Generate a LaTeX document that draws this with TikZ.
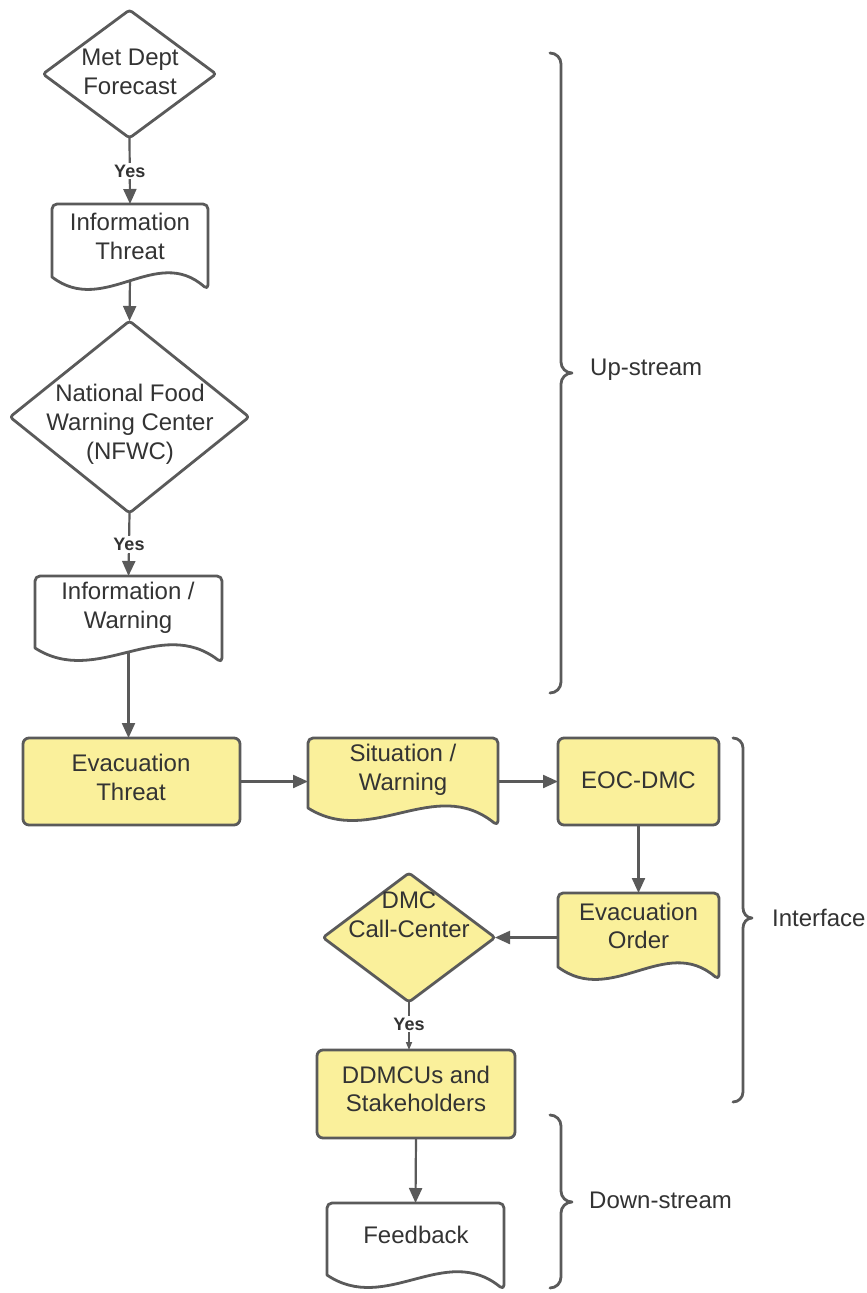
\documentclass[tikz,border=0pt]{standalone}
\usepackage{fontspec}
\setmainfont{Liberation Sans}
\usetikzlibrary{arrows.meta,calc}

\definecolor{edge}{RGB}{90,90,90}
\definecolor{ink}{RGB}{51,51,51}
\definecolor{note}{RGB}{250,240,155}

\tikzset{
  frame/.style={rectangle, draw=none, inner sep=0pt, outer sep=0pt},
  outline/.style={draw=edge, line width=2.8pt, line join=round},
  txt/.style={font=\fontsize{24}{28.8}\selectfont, text=ink, align=center, inner sep=0pt},
  yes/.style={font=\fontsize{18}{20}\selectfont\bfseries, text=ink, fill=white, inner sep=2pt},
  conn/.style={draw=edge, line width=2.2pt, -{Triangle[length=15pt,width=13pt]}},
  thinconn/.style={draw=edge, line width=1.6pt, -{Triangle[length=8pt,width=6pt]}},
  bracket/.style={draw=edge, line width=2.8pt, line cap=round, line join=round},
}

% outline of a decision diamond spanning a frame node
\newcommand\decisionshape[2]{%
  \draw[outline, fill=#2, rounded corners=3pt]
    (#1.north) -- (#1.east) -- (#1.south) -- (#1.west) -- cycle;}

% outline of a document sheet with a wavy lower edge
\newcommand\documentshape[3]{%
  \draw[outline, fill=#2] let \p1=(#1.south west), \p2=(#1.south east), \n1={\x2-\x1} in
    (#1.north) [rounded corners=5pt] -- (#1.north east) -- (\x2,\y2-#3pt) [sharp corners]
    .. controls (\x1+0.6667*\n1,\y1+33pt) and (\x1+0.3333*\n1,\y1-40pt) .. (\p1)
    [rounded corners=5pt] -- (#1.north west) -- cycle;}

% outline of a process box
\newcommand\processshape[2]{%
  \draw[outline, fill=#2, rounded corners=6pt] (#1.south west) rectangle (#1.north east);}

% right curly bracket from top end through tip to bottom end
\newcommand\rightbracket[4]{% top, tip, bottom, bend
  \draw[bracket] let \p1=(#1), \p2=(#2), \p3=(#3) in
    (\p1) to[out=0,in=90] (\x1+#4pt,\y1-#4pt) -- (\x1+#4pt,\y2+#4pt)
    to[out=-90,in=180] (\p2) to[out=180,in=90] (\x1+#4pt,\y2-#4pt)
    -- (\x3+#4pt,\y3+#4pt) to[out=-90,in=0] (\p3);}

\begin{document}
\begin{tikzpicture}[x=1pt, y=-1pt]
  \useasboundingbox (0,0) rectangle (867,1293);
  \fill[white] (0,0) rectangle (867,1293);

  % ---- shape frames ----
  \node[frame, minimum width=173pt, minimum height=128pt] (met)   at (129.5,74)  {};
  \node[frame, minimum width=156pt, minimum height=73pt]  (infoT) at (130,240.5) {};
  \node[frame, minimum width=239pt, minimum height=192pt] (nfwc)  at (129.5,417) {};
  \node[frame, minimum width=187pt, minimum height=72pt]  (infoW) at (128.5,612) {};
  \node[frame, minimum width=217pt, minimum height=87pt]  (evacT) at (131.5,781.5) {};
  \node[frame, minimum width=190pt, minimum height=70pt]  (sit)   at (403,773)   {};
  \node[frame, minimum width=161pt, minimum height=87pt]  (eoc)   at (638.5,781.5) {};
  \node[frame, minimum width=161pt, minimum height=74pt]  (evacO) at (638.5,930) {};
  \node[frame, minimum width=172pt, minimum height=129pt] (dmc)   at (409,937.5) {};
  \node[frame, minimum width=198pt, minimum height=88pt]  (ddm)   at (416,1094)  {};
  \node[frame, minimum width=177pt, minimum height=72pt]  (fb)    at (415.5,1239) {};

  % ---- connectors ----
  \draw[conn] (met.south) -- node[yes] (yes1) {Yes} (infoT.north);
  \draw[conn] (infoT.south) -- (nfwc.north);
  \draw[conn] (nfwc.south) -- node[yes] (yes2) {Yes} (infoW.north);
  \draw[conn] (infoW.south) -- (infoW.south |- evacT.north);
  \draw[conn] (evacT.east) -- (evacT.east -| sit.west);
  \draw[conn] (sit.east |- eoc.west) -- (eoc.west);
  \draw[conn] (eoc.south) -- (evacO.north);
  \draw[conn] (evacO.west |- dmc.east) -- (dmc.east);
  \draw[thinconn] (dmc.south) -- node[yes, pos=0.46] (yes3) {Yes} (dmc.south |- ddm.north);
  \draw[conn] (ddm.south) -- (fb.north);

  % ---- shapes ----
  \decisionshape{met}{white}
  \documentshape{infoT}{white}{13}
  \decisionshape{nfwc}{white}
  \documentshape{infoW}{white}{15}
  \processshape{evacT}{note}
  \documentshape{sit}{note}{18}
  \processshape{eoc}{note}
  \documentshape{evacO}{note}{13}
  \decisionshape{dmc}{note}
  \processshape{ddm}{note}
  \documentshape{fb}{white}{15}

  % ---- texts ----
  \node[txt] (metT)   at (130,72)    {Met Dept\\Forecast};
  \node[txt] (infoTT) at (130,236.5) {Information\\Threat};
  \node[txt] (nfwcT)  at (130,424)   {National Food\\Warning Center\\(NFWC)};
  \node[txt] (infoWT) at (128,608)   {Information /\\Warning};
  \node[txt] (evacTT) at (131,777.5) {Evacuation\\Threat};
  \node[txt] (sitT)   at (403,770)   {Situation /\\Warning};
  \node[txt] (eocT)   at (638.5,780) {EOC-DMC};
  \node[txt] (evacOT) at (638.5,926) {Evacuation\\Order};
  \node[txt] (dmcT)   at (409,915)   {DMC\\Call-Center};
  \node[txt] (ddmT)   at (416,1089)  {DDMCUs and\\Stakeholders};
  \node[txt] (fbT)    at (416,1235)  {Feedback};

  % ---- stage brackets ----
  \coordinate (upTop) at (550,53);
  \coordinate (upTip) at (572,373);
  \coordinate (upBot) at (550,693);
  \rightbracket{upTop}{upTip}{upBot}{11}
  \node[txt, anchor=west] (upL) at (590,370) {Up-stream};

  \coordinate (ifTop) at (733,738);
  \coordinate (ifTip) at (752,918);
  \coordinate (ifBot) at (733,1102);
  \rightbracket{ifTop}{ifTip}{ifBot}{10}
  \node[txt, anchor=west] (ifL) at (772,918) {Interface};

  \coordinate (dnTop) at (550,1115);
  \coordinate (dnTip) at (572,1202);
  \coordinate (dnBot) at (550,1288);
  \rightbracket{dnTop}{dnTip}{dnBot}{11}
  \node[txt, anchor=west] (dnL) at (589,1200) {Down-stream};
\end{tikzpicture}
\end{document}
